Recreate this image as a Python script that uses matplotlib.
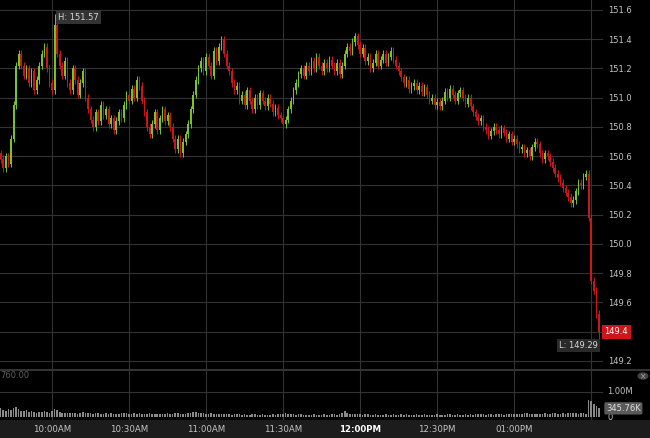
import numpy as np
import matplotlib
matplotlib.use("Agg")
import matplotlib.pyplot as plt
import matplotlib.transforms as mtrans
from matplotlib.patches import Rectangle, Circle

# one-minute closes, 09:40 .. 13:33
closes = [
    150.58, 150.52, 150.60, 150.55, 150.72, 150.95, 151.22, 151.30, 151.22, 151.15,
    151.20, 151.10, 151.18, 151.05, 151.12, 151.22, 151.30, 151.35,
    151.20, 151.10, 151.05, 151.50, 151.30,
    151.22, 151.15, 151.25, 151.10, 151.05, 151.20, 151.12, 151.02, 151.10,
    151.18, 151.00, 150.92, 150.85, 150.80, 150.90, 150.84,
    150.95, 150.88, 150.92, 150.82, 150.86, 150.78, 150.84, 150.90, 150.86,
    150.95, 151.02, 150.98, 151.06, 151.00, 151.12,
    151.08, 150.98, 150.90, 150.80, 150.75,
    150.82, 150.90, 150.78, 150.86, 150.92, 150.84, 150.88, 150.80, 150.72,
    150.65, 150.72, 150.62, 150.70, 150.75,
    150.82, 150.92, 151.02, 151.12, 151.20, 151.25,
    151.18, 151.28, 151.22, 151.15, 151.32, 151.25, 151.35, 151.40,
    151.30, 151.22, 151.18, 151.10, 151.05, 151.08, 150.98,
    151.02, 150.95, 151.05, 150.98, 150.92, 151.00, 150.95, 151.03, 150.98, 150.94,
    151.00, 150.96, 150.90, 150.93, 150.88,
    150.86, 150.82, 150.85,
    150.92, 150.98, 151.05, 151.10, 151.16, 151.20, 151.15,
    151.22, 151.18, 151.25, 151.20, 151.28, 151.22, 151.18, 151.24, 151.20, 151.26,
    151.22, 151.18, 151.24, 151.16,
    151.22, 151.30, 151.35, 151.32, 151.38, 151.42,
    151.36, 151.30, 151.34, 151.25, 151.28, 151.20, 151.24, 151.30, 151.22,
    151.26, 151.30, 151.24, 151.28, 151.32, 151.26, 151.22, 151.18,
    151.14, 151.10, 151.12, 151.06, 151.08,
    151.10, 151.05, 151.08, 151.04, 151.07, 151.02,
    150.98, 151.00, 150.95, 150.97, 150.94,
    150.98, 151.04, 151.00, 151.06, 151.02, 150.98, 151.03, 151.05, 151.00, 150.96, 151.00,
    150.94, 150.90, 150.87, 150.84, 150.86,
    150.80, 150.78, 150.74, 150.77, 150.80, 150.78, 150.75, 150.79, 150.76, 150.72,
    150.75, 150.70, 150.72,
    150.68, 150.65, 150.66, 150.62, 150.64, 150.60,
    150.66, 150.70, 150.68,
    150.62, 150.58, 150.62, 150.60,
    150.56, 150.52, 150.48, 150.45, 150.42, 150.38, 150.35, 150.32, 150.28, 150.30,
    150.36, 150.42, 150.40, 150.46, 150.48,
    150.18, 149.75, 149.68, 149.52, 149.40,
]
first_open = 150.62
wick = 0.025
high_marks = {21: 151.57}
low_marks = {233: 149.29}

# volume, thousands
volume = [
    380, 300, 260, 330, 280, 350, 400, 320, 260, 240, 300, 220, 250, 200, 180, 210, 190, 230, 200, 180,
    240, 340, 290, 200, 170, 160, 180, 150, 170, 160, 140, 180, 200, 160, 150, 170, 140, 160, 150, 130,
    140, 160, 130, 150, 120, 140, 130, 150, 170, 160, 140, 130, 150, 140, 160, 130, 120, 140, 150, 130,
    120, 140, 130, 110, 130, 150, 140, 120, 170, 150, 130, 140, 120, 150, 180, 200, 190, 170, 160, 150,
    140, 130, 150, 120, 130, 140, 120, 130, 110, 120, 100, 110, 130, 120, 100, 110, 90, 100, 120, 110,
    90, 100, 110, 80, 100, 90, 110, 100, 120, 110, 130, 150, 140, 120, 110, 100, 120, 110, 90, 100,
    100, 90, 110, 100, 90, 100, 110, 90, 100, 110, 120, 100, 130, 170, 240, 150, 120, 110, 130, 120,
    110, 100, 120, 110, 100, 90, 110, 100, 90, 100, 110, 90, 100, 110, 100, 90, 110, 100, 120, 100,
    90, 100, 110, 90, 100, 110, 100, 90, 100, 90, 110, 100, 90, 100, 110, 120, 100, 90, 110, 100,
    100, 110, 90, 120, 100, 110, 130, 120, 110, 100, 120, 110, 100, 120, 130, 110, 100, 120, 130, 110,
    120, 130, 110, 140, 160, 150, 130, 120, 140, 130, 120, 140, 150, 130, 140, 160, 150, 140, 130, 150,
    140, 160, 150, 170, 150, 140, 160, 150, 140,
    700, 630, 530, 440, 346,
]

price_ticks = [149.2, 149.4, 149.6, 149.8, 150.0, 150.2, 150.4, 150.6, 150.8, 151.0, 151.2, 151.4, 151.6]
last_price = 149.4
time_ticks = [20, 50, 80, 110, 140, 170, 200, 230]
time_labels = ["10:00AM", "10:30AM", "11:00AM", "11:30AM", "12:00PM", "12:30PM", "01:00PM", ""]

GREEN = "#7cc423"
RED = "#cc161c"
GRID = "#333333"
TXT = "#c4c4c4"

c = np.array(closes)
o = np.concatenate([[first_open], c[:-1]])
n = len(c)
x = np.arange(n)
hi = np.maximum(o, c) + wick
lo = np.minimum(o, c) - wick
for k, v in high_marks.items():
    hi[k] = v
for k, v in low_marks.items():
    lo[k] = v
up = c >= o
cols = np.where(up, GREEN, RED)

W, H = 650, 438
fig = plt.figure(figsize=(W / 100, H / 100), dpi=100, facecolor="black")
ax = fig.add_axes([0, 69 / H, 603 / W, 369 / H], facecolor="black")
vax = fig.add_axes([0, 18 / H, 603 / W, 49 / H], facecolor="black")

xlim = (-0.26, 234.6)
for a in (ax, vax):
    a.set_xlim(xlim)
    for s in a.spines.values():
        s.set_visible(False)
    a.set_xticks(time_ticks)
    a.tick_params(axis="x", length=0, labelbottom=False)
    a.xaxis.grid(True, color=GRID, lw=0.8)
    a.set_axisbelow(True)

# price panel
ax.set_ylim(149.145, 151.668)
ax.set_yticks(price_ticks)
ax.yaxis.tick_right()
# the last-price tag sits on top of its own tick label
ax.set_yticklabels(["" if abs(t - last_price) < 1e-9 else "%.1f" % t for t in price_ticks])
ax.tick_params(axis="y", length=0, pad=4, labelsize=6, labelcolor=TXT)
ax.yaxis.grid(True, color=GRID, lw=0.8)

ax.vlines(x, lo, hi, colors=cols, lw=0.7)
body = np.abs(c - o)
body = np.maximum(body, 0.006)
ax.bar(x, body, bottom=np.minimum(o, c), width=0.62, color=cols, linewidth=0)

ax.text(22.4, 151.55, "H: 151.57", fontsize=6, color="#d8d8d8", ha="left", va="center",
        bbox=dict(boxstyle="square,pad=0.25", fc="#333333", ec="none"))
ax.text(232.6, 149.305, "L: 149.29", fontsize=6, color="#d8d8d8", ha="right", va="center",
        bbox=dict(boxstyle="square,pad=0.25", fc="#2a2a2a", ec="none"))
tr_right = mtrans.blended_transform_factory(ax.transAxes, ax.transData)
ax.text(1.0 + 1.5 / 603, last_price, "%.1f" % last_price, transform=tr_right, fontsize=6,
        color="white", ha="left", va="center", clip_on=False,
        bbox=dict(boxstyle="square,pad=0.3", fc=RED, ec="none"))

# volume panel
vol = np.array(volume) / 1000.0
vax.set_ylim(-0.12, 1.84)
vax.set_yticks([1.0])
vax.yaxis.grid(True, color=GRID, lw=0.8)
vax.tick_params(axis="y", length=0, labelleft=False)
vax.bar(x, vol, width=0.62, color="#8a8a8a", linewidth=0)
tr_v = mtrans.blended_transform_factory(vax.transAxes, vax.transData)
vax.text(1.0 + 4 / 603, 1.0, "1.00M", transform=tr_v, fontsize=6, color=TXT,
         ha="left", va="center", clip_on=False)
vax.text(1.0 + 4 / 603, 0.0, "0", transform=tr_v, fontsize=6, color=TXT,
         ha="left", va="center", clip_on=False)
vax.text(1.0 + 3 / 603, 0.3458, "345.76K", transform=tr_v, fontsize=6, color="#e0e0e0",
         ha="left", va="center", clip_on=False,
         bbox=dict(boxstyle="round,pad=0.2", fc="#5a5a5a", ec="none"))

# separator, time band, small widgets
fig.add_artist(Rectangle((0, 67 / H), 1, 2.5 / H, transform=fig.transFigure,
                         color="#333333", lw=0))
fig.add_artist(Rectangle((0, 0), 1, 18 / H, transform=fig.transFigure,
                         color="#1c1c1c", lw=0))
fig.text(0.0, (438 - 376) / H, "760.00", fontsize=6, color="#5e5e5e", ha="left", va="center")
fig.add_artist(Circle((643 / W, (438 - 376) / H), 0.0085, transform=fig.transFigure,
                      color="#444444", lw=0))
fig.text(643 / W, (438 - 376.5) / H, "×", fontsize=5.5, color="#aaaaaa", ha="center", va="center")

tr_t = mtrans.blended_transform_factory(vax.transData, fig.transFigure)
for t, lab in zip(time_ticks, time_labels):
    bold = lab == "12:00PM"
    fig.text(t, 8 / H, lab, transform=tr_t, fontsize=6.2, ha="center", va="center",
             color="white" if bold else TXT, fontweight="bold" if bold else "normal")

fig.savefig("out.png", dpi=100, facecolor="black")
